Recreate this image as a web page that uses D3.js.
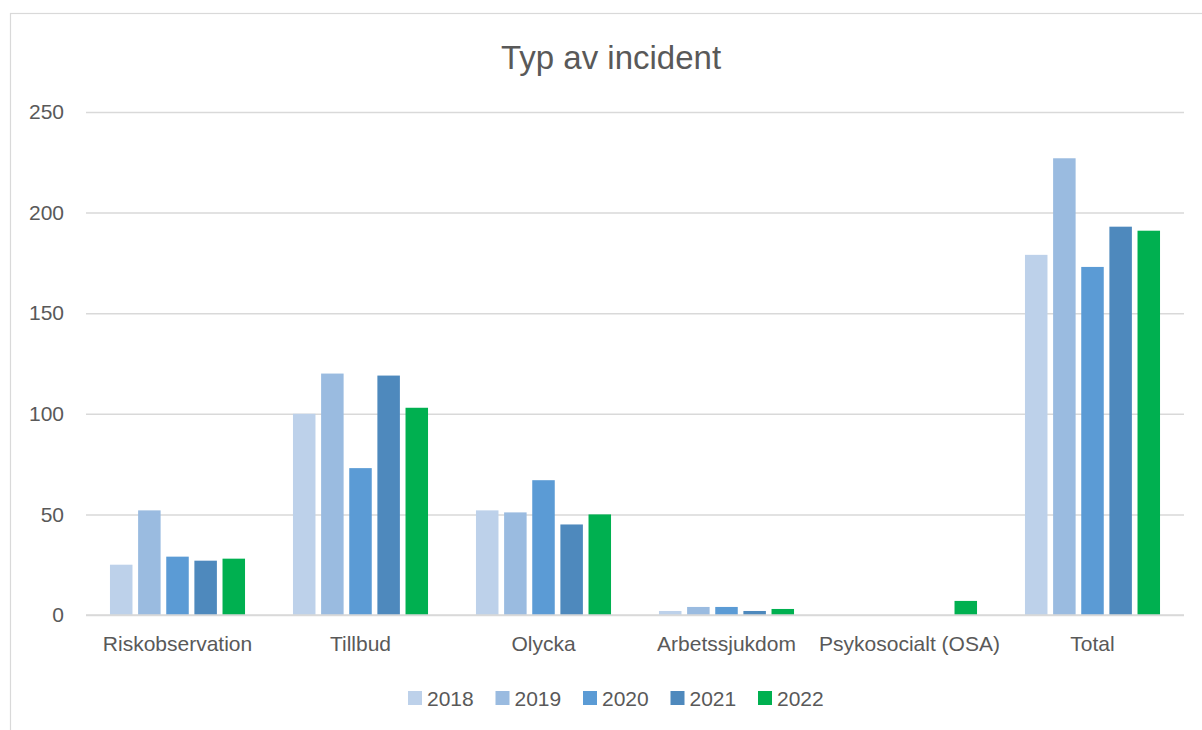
<!DOCTYPE html>
<html><head><meta charset="utf-8">
<script src="https://cdn.jsdelivr.net/npm/d3@7/dist/d3.min.js"></script>
<style>html,body{margin:0;padding:0;background:#fff;overflow:hidden}</style>
</head><body>
<svg id="c" width="1202" height="730"></svg>
<script>
const categories = ["Riskobservation","Tillbud","Olycka","Arbetssjukdom","Psykosocialt (OSA)","Total"];
const years = ["2018","2019","2020","2021","2022"];
const v2018 = [25,100,52,2,0,179];
const v2019 = [52,120,51,4,0,227];
const v2020 = [29,73,67,4,0,173];
const v2021 = [27,119,45,2,0,193];
const v2022 = [28,103,50,3,7,191];
const yTicks = [0,50,100,150,200,250];
const colors = ["#bdd1ea","#9abbe0","#5b9bd5","#4e89bd","#00b050"];
const seriesValues = [v2018,v2019,v2020,v2021,v2022];

const svg = d3.select("#c");
const font = "'Liberation Sans', Arial, sans-serif";
const txt = "#595959";

svg.append("rect").attr("x",10.5).attr("y",13.5).attr("width",1210).attr("height",740)
  .attr("fill","#fff").attr("stroke","#d9d9d9").attr("stroke-width",1.2);

const y = d3.scaleLinear().domain([0,250]).range([615,112]);
const x0 = d3.scaleBand().domain(categories).range([86,1184]).paddingInner(0.262).paddingOuter(0.131);
const x1 = d3.scaleBand().domain(years).range([0,x0.bandwidth()]).paddingInner(0.2).paddingOuter(0);

// gridlines
const yAxis = d3.axisLeft(y).tickValues(yTicks).tickSize(-(1184-86)).tickPadding(22);
const gy = svg.append("g").attr("transform","translate(86,0)").call(yAxis);
gy.select(".domain").remove();
gy.selectAll(".tick line").attr("stroke","#d9d9d9").attr("stroke-width",1.5);
gy.selectAll(".tick text").attr("fill",txt).attr("font-family",font).attr("font-size",21);

// bars
const data = [];
categories.forEach((c,i)=>years.forEach((yr,j)=>data.push({c,yr,v:seriesValues[j][i],col:colors[j]})));
svg.append("g").selectAll("rect").data(data).join("rect")
  .attr("x",d=>x0(d.c)+x1(d.yr))
  .attr("width",x1.bandwidth())
  .attr("y",d=>y(d.v))
  .attr("height",d=>y(0)-y(d.v))
  .attr("fill",d=>d.col);

// x axis
const xAxis = d3.axisBottom(x0).tickSize(0).tickPadding(21);
const gx = svg.append("g").attr("transform","translate(0,615)").call(xAxis);
gx.select(".domain").remove();
gx.selectAll(".tick text").attr("fill",txt).attr("font-family",font).attr("font-size",21);
svg.append("line").attr("x1",86).attr("x2",1184).attr("y1",615).attr("y2",615)
  .attr("stroke","#d9d9d9").attr("stroke-width",1.5);

// title
svg.append("text").attr("x",611).attr("y",69).attr("text-anchor","middle")
  .attr("font-family",font).attr("font-size",33).attr("fill",txt).text("Typ av incident");

// legend
const lg = svg.append("g");
years.forEach((yr,j)=>{
  const lx = 408 + j*87.5;
  lg.append("rect").attr("x",lx).attr("y",691).attr("width",14).attr("height",14).attr("fill",colors[j]);
  lg.append("text").attr("x",lx+19).attr("y",706).attr("font-family",font).attr("font-size",21)
    .attr("fill",txt).text(yr);
});
</script>
</body></html>
